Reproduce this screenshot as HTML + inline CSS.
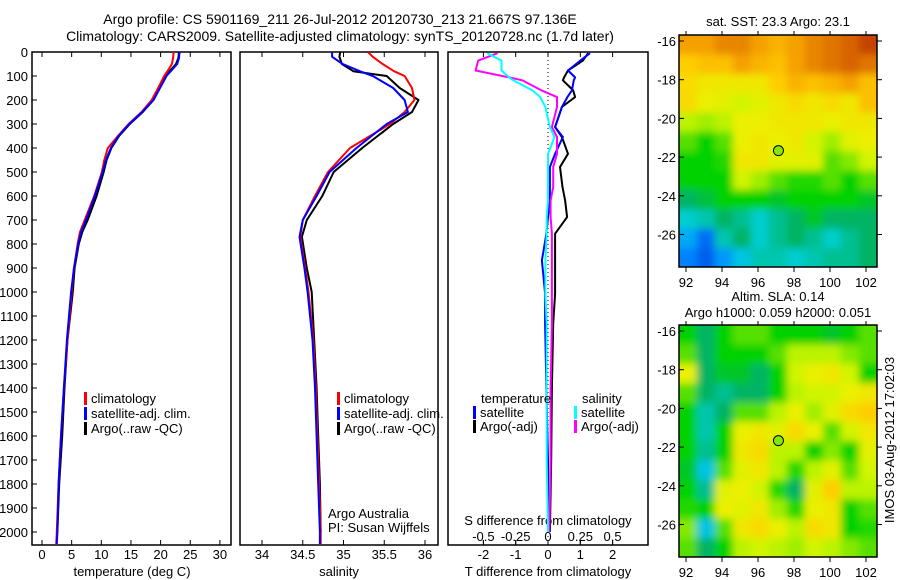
<!DOCTYPE html>
<html><head><meta charset="utf-8">
<style>
html,body{margin:0;padding:0;background:#fff;}
svg{display:block;font-family:"Liberation Sans",sans-serif;}
text{font-size:13px;fill:#000;}
</style></head>
<body>
<svg id="chart" width="900" height="580" viewBox="0 0 900 580" xmlns="http://www.w3.org/2000/svg">
<defs>
<clipPath id="clipP1"><rect x="32" y="52" width="199" height="493"/></clipPath>
<clipPath id="clipP2"><rect x="240" y="52" width="198" height="493"/></clipPath>
<clipPath id="clipP3"><rect x="448" y="52" width="200" height="493"/></clipPath>
<clipPath id="clipM1"><rect x="679" y="35" width="198" height="232"/></clipPath>
<clipPath id="clipM2"><rect x="679" y="325" width="198" height="232"/></clipPath>
<filter id="soft" x="-10%" y="-10%" width="120%" height="120%"><feGaussianBlur stdDeviation="4"/></filter>
</defs>
<text x="340" y="24" text-anchor="middle" style="font-size:14px">Argo profile: CS 5901169_211 26-Jul-2012 20120730_213 21.667S 97.136E</text>
<text x="340" y="41" text-anchor="middle" style="font-size:14px">Climatology: CARS2009. Satellite-adjusted climatology: synTS_20120728.nc (1.7d later)</text>
<g id="g"></g>
</svg>
<script>
// ---------- data ----------
const tDepths = [0,25,50,75,100,150,200,250,300,350,400,450,500,600,700,750,800,900,1000,1200,1400,1600,1800,2000,2050];
const tClim = [22.2,22.1,21.9,21.3,20.6,19.6,18.5,16.8,14.6,12.8,11.1,10.5,10.1,8.8,7.2,6.4,6.0,5.4,5.0,4.3,3.7,3.2,2.8,2.5,2.4];
const tSat  = [23.2,23.1,22.8,21.9,21.0,19.9,18.8,16.9,14.7,12.9,11.6,10.8,10.2,8.9,7.4,6.6,6.1,5.4,4.9,4.2,3.7,3.2,2.8,2.6,2.5];
const tArgo = [23.1,23.0,22.6,21.7,20.8,19.8,18.8,17.0,14.8,13.0,11.7,10.9,10.4,9.2,7.7,6.8,6.2,5.5,5.2,4.3,3.8,3.4,2.9,2.6,null];

const sDepths = [0,20,50,80,100,150,200,250,300,400,500,600,700,770,900,1000,1200,1400,1600,1800,2000,2050];
const sClim = [35.30,35.36,35.48,35.62,35.75,35.84,35.87,35.75,35.57,35.08,34.81,34.65,34.50,34.47,34.53,34.57,34.63,34.66,34.68,34.70,34.72,34.72];
const sSat  = [34.86,34.86,34.99,35.20,35.36,35.61,35.75,35.79,35.53,35.16,34.83,34.67,34.50,34.46,34.52,34.56,34.62,34.65,34.67,34.69,34.71,34.71];
const sArgo = [34.96,34.95,34.98,35.12,35.53,35.69,35.92,35.84,35.61,35.23,34.88,34.74,34.55,34.49,34.55,34.61,34.64,34.67,34.69,34.71,34.72,null];

const dDepths = [5,36,77,106,118,160,188,229,313,354,424,479,563,618,688,757,868,1007,1132,1400,1700,2000];
const dTArgo = [1.24,1.08,0.62,0.5,0.46,0.78,0.84,0.43,0.22,0.43,0.62,0.37,0.45,0.53,0.59,0.22,0.22,0.22,0.16,0.12,0.1,0.06];
const dTSat  = [1.3,1.0,0.62,0.84,0.8,0.74,0.6,0.43,0.22,0.46,0.22,0.06,0.06,0.06,0.0,-0.05,-0.19,-0.09,-0.09,-0.05,0.0,0.0];
const dSArgo = [-0.39,-0.54,-0.56,-0.3,-0.2,-0.05,0.07,0.07,0.03,0.07,0.07,0.04,0.04,0.02,0.02,0.03,0.03,0.03,0.03,0.02,0.02,0.01];
const dSSat  = [-0.47,-0.36,-0.36,-0.3,-0.27,-0.12,-0.06,-0.02,0.015,0.05,0.0,0.0,0.0,0.0,-0.01,-0.01,-0.02,-0.02,-0.01,-0.01,-0.01,0.0];

const depthTicks = [0,100,200,300,400,500,600,700,800,900,1000,1100,1200,1300,1400,1500,1600,1700,1800,1900,2000];
const tempTicks = [0,5,10,15,20,25,30];
const salTicks = [34,34.5,35,35.5,36];
const tDiffTicks = [-2,-1,0,1,2];
const sDiffTicks = [-0.5,-0.25,0,0.25,0.5];
const latTicks = [-16,-18,-20,-22,-24,-26];
const lonTicks = [92,94,96,98,100,102];

const mapLons = [92.1,93.1,94.1,95.1,96.1,97.1,98.1,99.1,100.1,101.1,102.1];
const mapLats = [-16.2,-17.2,-18.2,-19.2,-20.2,-21.2,-22.2,-23.2,-24.2,-25.2,-26.2,-27.2];
const sstGrid = [
[0.85,0.85,0.88,0.88,0.85,0.82,0.85,0.88,0.9,0.92,0.95],
[0.78,0.8,0.8,0.85,0.82,0.8,0.85,0.88,0.9,0.92,0.9],
[0.75,0.72,0.72,0.72,0.72,0.78,0.82,0.8,0.82,0.85,0.8],
[0.75,0.7,0.68,0.65,0.68,0.72,0.75,0.72,0.75,0.72,0.8],
[0.62,0.6,0.62,0.7,0.7,0.72,0.72,0.72,0.7,0.72,0.72],
[0.55,0.5,0.55,0.7,0.72,0.7,0.72,0.65,0.6,0.68,0.7],
[0.5,0.5,0.52,0.72,0.72,0.68,0.68,0.68,0.55,0.58,0.65],
[0.5,0.5,0.5,0.65,0.6,0.55,0.52,0.52,0.55,0.5,0.55],
[0.45,0.47,0.5,0.5,0.5,0.48,0.5,0.5,0.5,0.5,0.48],
[0.38,0.4,0.45,0.42,0.38,0.42,0.45,0.48,0.45,0.45,0.45],
[0.3,0.22,0.4,0.45,0.38,0.42,0.45,0.42,0.38,0.42,0.45],
[0.25,0.2,0.28,0.35,0.4,0.4,0.38,0.4,0.42,0.42,0.45]];
const slaGrid = [
[0.5,0.45,0.5,0.55,0.55,0.5,0.5,0.5,0.48,0.5,0.55],
[0.55,0.45,0.5,0.5,0.5,0.55,0.62,0.62,0.62,0.58,0.55],
[0.7,0.45,0.48,0.48,0.45,0.5,0.65,0.7,0.72,0.65,0.5],
[0.55,0.45,0.42,0.45,0.45,0.5,0.62,0.65,0.65,0.7,0.72],
[0.5,0.4,0.45,0.55,0.55,0.62,0.7,0.6,0.68,0.75,0.78],
[0.5,0.4,0.5,0.7,0.72,0.68,0.75,0.7,0.55,0.65,0.72],
[0.5,0.42,0.5,0.72,0.75,0.62,0.62,0.5,0.58,0.5,0.68],
[0.48,0.35,0.55,0.68,0.72,0.62,0.52,0.62,0.68,0.55,0.65],
[0.5,0.42,0.68,0.7,0.65,0.52,0.45,0.68,0.78,0.62,0.62],
[0.52,0.5,0.7,0.68,0.72,0.6,0.52,0.7,0.72,0.5,0.55],
[0.58,0.35,0.55,0.72,0.75,0.7,0.62,0.75,0.72,0.5,0.52],
[0.55,0.45,0.5,0.62,0.65,0.62,0.6,0.65,0.62,0.58,0.55]];
const argoLon = [97.136];
const argoLat = [-21.667];

// ---------- scales ----------
const NS = "http://www.w3.org/2000/svg";
const root = document.getElementById('g');
function el(tag, attrs, parent){ const e=document.createElementNS(NS,tag); for(const k in attrs) e.setAttribute(k,attrs[k]); (parent||root).appendChild(e); return e; }
function txt(s, x, y, anchor, parent){ const t=el('text',{x:x,y:y,'text-anchor':anchor||'start'},parent); t.textContent=s; return t; }
const yD = d => 52 + d*0.24;
const xT = t => 42 + t*5.93;
const xS = s => 262 + (s-34)*81.5;
const xDT = v => 548 + v*32.3;
const xDS = v => 548 + v*4*32.3;
const xLon = lon => 686 + (lon-92)*18;
const yLat1 = lat => 41 + (-16-lat)*19.35;
const yLat2 = lat => 331 + (-16-lat)*19.35;

function pathFrom(depths, vals, xf){
  let d=''; let started=false;
  for(let i=0;i<depths.length;i++){ if(vals[i]==null) continue; d += (started?'L':'M')+xf(vals[i]).toFixed(1)+' '+yD(depths[i]).toFixed(1); started=true; }
  return d;
}

// ---------- panels ----------
const panels = [
 {x:32,w:199,clip:'clipP1',name:'temperature-panel'},
 {x:240,w:198,clip:'clipP2',name:'salinity-panel'},
 {x:448,w:200,clip:'clipP3',name:'difference-panel'}];
panels.forEach(p=>{
  const r = el('rect',{x:p.x,y:52,width:p.w,height:493,fill:'none',stroke:'#000','stroke-width':1.5});
  
  
});

depthTicks.forEach(d=>{
  const t = txt(String(d), 28, yD(d)+5, 'end');
  
  
  const tk = el('line',{x1:32,x2:37,y1:yD(d),y2:yD(d),stroke:'#000'});
  
  
});

function xTicks(ticks, xf, labelY, top, fmt){
  ticks.forEach(v=>{
    const x = xf(v);
    const b = el('line',{x1:x,x2:x,y1:545,y2:540,stroke:'#000'});
    
    
    if(top){ const t2 = el('line',{x1:x,x2:x,y1:52,y2:57,stroke:'#000'});
      
       }
    if(labelY){ const t = txt(fmt?fmt(v):String(v), x, labelY, 'middle');
      
       }
  });
}
xTicks(tempTicks, xT, 559, true);
xTicks(salTicks, xS, 559, true);
xTicks(tDiffTicks, xDT, 559, true);
xTicks(sDiffTicks, xDS, 541, false);

[['temperature (deg C)',132,'temperature-axis-title'],['salinity',339,'salinity-axis-title'],['T difference from climatology',548,'t-diff-axis-title']].forEach(a=>{
  const t = txt(a[0], a[1], 576, 'middle');
  
  
});
const sdt = txt('S difference from climatology', 548, 525, 'middle');



const zl = el('line',{x1:xDT(0),x2:xDT(0),y1:52,y2:545,stroke:'#000','stroke-dasharray':'1 3'});



function series(depths, vals, xf, color, clip, name, w){
  const p = el('path',{d:pathFrom(depths,vals,xf),fill:'none',stroke:color,'stroke-width':w||2,'clip-path':'url(#'+clip+')','stroke-linejoin':'round'});
  
  
}
series(tDepths,tArgo,xT,'#000','clipP1','temp-argo-line');
series(tDepths,tClim,xT,'#f00','clipP1','temp-climatology-line');
series(tDepths,tSat,xT,'#00f','clipP1','temp-satellite-line');
series(sDepths,sArgo,xS,'#000','clipP2','sal-argo-line');
series(sDepths,sClim,xS,'#f00','clipP2','sal-climatology-line');
series(sDepths,sSat,xS,'#00f','clipP2','sal-satellite-line');
series(dDepths,dTArgo,xDT,'#000','clipP3','tdiff-argo-line');
series(dDepths,dTSat,xDT,'#00f','clipP3','tdiff-satellite-line');
series(dDepths,dSArgo,xDS,'#f0f','clipP3','sdiff-argo-line');
series(dDepths,dSSat,xDS,'#0ff','clipP3','sdiff-satellite-line');

function legendEntry(x, y, color, label){
  const b = el('rect',{x:x,y:y-11,width:3,height:13,fill:color});
  
  
  const t = txt(label, x+7, y);
  
  
}
[[84,'temp'],[337,'sal']].forEach(l=>{
  legendEntry(l[0],403,'#f00','climatology');
  legendEntry(l[0],418,'#00f','satellite-adj. clim.');
  legendEntry(l[0],433,'#000','Argo(..raw -QC)');
});
let lt = txt('temperature', 481, 403);  
let ls = txt('salinity', 582, 403);  
legendEntry(473,417,'#00f','satellite');
legendEntry(473,431,'#000','Argo(-adj)');
legendEntry(574,417,'#0ff','satellite');
legendEntry(574,431,'#f0f','Argo(-adj)');

let aa = txt('Argo Australia', 328, 518);  
let pi = txt('PI: Susan Wijffels', 328, 532);  

// ---------- maps ----------
const stops = [[0.15,[0,60,220]],[0.25,[0,130,255]],[0.33,[0,190,240]],[0.38,[0,205,205]],[0.45,[0,180,100]],[0.5,[0,210,0]],[0.57,[120,230,0]],[0.63,[200,245,0]],[0.7,[235,240,0]],[0.78,[255,205,0]],[0.85,[245,160,0]],[0.92,[215,100,0]],[0.97,[185,45,0]]];
function cmap(v){
  if(v<=stops[0][0]) return 'rgb('+stops[0][1]+')';
  for(let i=1;i<stops.length;i++){ if(v<=stops[i][0]){ const a=stops[i-1],b=stops[i]; const f=(v-a[0])/(b[0]-a[0]);
    return 'rgb('+a[1].map((c,k)=>Math.round(c+(b[1][k]-c)*f)).join(',')+')'; } }
  return 'rgb('+stops[stops.length-1][1]+')';
}
function drawMap(grid, yLat, clip, name, boxY){
  const outer = el('g',{'clip-path':'url(#'+clip+')'});
  
  
  const g = el('g',{filter:'url(#soft)'}, outer);
  const cw = 18, ch = 19.35;
  for(let r=-2;r<mapLats.length+2;r++){
    for(let c=-2;c<mapLons.length+2;c++){
      const rr=Math.min(Math.max(r,0),mapLats.length-1), cc=Math.min(Math.max(c,0),mapLons.length-1);
      const lon = mapLons[0]+c, lat = mapLats[0]-r;
      const cell = el('rect',{x:xLon(lon)-cw/2,y:yLat(lat)-ch/2,width:cw+0.6,height:ch+0.6,fill:cmap(grid[rr][cc])}, g);
      
      
    }
  }
  const fr = el('rect',{x:679,y:boxY,width:198,height:232,fill:'none',stroke:'#000','stroke-width':1.5});
  
  
  latTicks.forEach(l=>{
    const y=yLat(l);
    const a = el('line',{x1:679,x2:684,y1:y,y2:y,stroke:'#000'});  
    const b = el('line',{x1:877,x2:882,y1:y,y2:y,stroke:'#000'});  
    const t = txt(String(l), 676, y+5, 'end');  
  });
  lonTicks.forEach(l=>{
    const x=xLon(l);
    const a = el('line',{x1:x,x2:x,y1:boxY+232,y2:boxY+237,stroke:'#000'});  
    const b = el('line',{x1:x,x2:x,y1:boxY,y2:boxY-4,stroke:'#000'});  
    const t = txt(String(l), x, boxY+252, 'middle');  
  });
  const m = el('circle',{cx:xLon(argoLon[0]),cy:yLat(argoLat[0]),r:5,fill:cmap(0.58),stroke:'#000','stroke-width':1});
  
  
}
drawMap(sstGrid, yLat1, 'clipM1', 'sst-map', 35);
drawMap(slaGrid, yLat2, 'clipM2', 'sla-map', 325);

let st = txt('sat. SST: 23.3 Argo: 23.1', 778, 26, 'middle');  
let s1 = txt('Altim. SLA: 0.14', 778, 301, 'middle');  
let s2 = txt('Argo h1000: 0.059 h2000: 0.051', 778, 317, 'middle');  
let im = txt('IMOS 03-Aug-2012 17:02:03', 0, 0, 'middle');
im.setAttribute('transform','translate(894,440) rotate(-90)');


</script>
</body></html>
